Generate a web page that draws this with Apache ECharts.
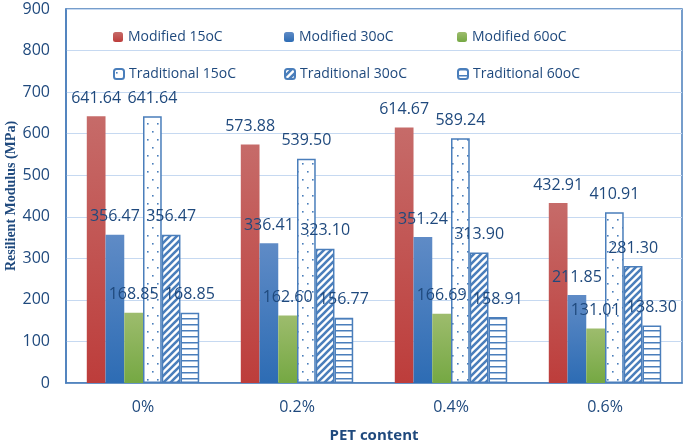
<!DOCTYPE html>
<html>
<head>
<meta charset="utf-8">
<script src="https://cdn.jsdelivr.net/npm/echarts@6/dist/echarts.min.js"></script>
<style>
  html, body { margin: 0; padding: 0; background: #fff; }
  #chart { width: 685px; height: 447px; }
</style>
</head>
<body>
<div id="chart"></div>
<script>
  var categories = ['0%', '0.2%', '0.4%', '0.6%'];
  var modified15 = [641.64, 573.88, 614.67, 432.91];
  var modified30 = [356.47, 336.41, 351.24, 211.85];
  var modified60 = [168.85, 162.60, 166.69, 131.01];
  var traditional15 = [641.64, 539.50, 589.24, 410.91];
  var traditional30 = [356.47, 323.10, 313.90, 281.30];
  var traditional60 = [168.85, 156.77, 158.91, 138.30];
  var seriesNames = ['Modified 15oC', 'Modified 30oC', 'Modified 60oC',
                     'Traditional 15oC', 'Traditional 30oC', 'Traditional 60oC'];

  var blue = '#4a7ebb';
  var textBlue = '#1f497d';
  var font = '"Open Sans", sans-serif';

  // small canvas tiles for the hatched bars
  function tile(w, h, draw) {
    var c = document.createElement('canvas');
    c.width = w;
    c.height = h;
    var ctx = c.getContext('2d');
    ctx.fillStyle = '#fff';
    ctx.fillRect(0, 0, w, h);
    draw(ctx);
    return { image: c, repeat: 'repeat' };
  }
  var dots = tile(10, 16, function (ctx) {
    ctx.fillStyle = blue;
    ctx.fillRect(2, 3, 1.6, 1.6);
    ctx.fillRect(7, 11, 1.6, 1.6);
  });
  var diag = tile(7, 7, function (ctx) {
    ctx.strokeStyle = blue;
    ctx.lineWidth = 2.6;
    ctx.beginPath();
    ctx.moveTo(-1, 8); ctx.lineTo(8, -1);
    ctx.moveTo(-4, 4); ctx.lineTo(4, -4);
    ctx.moveTo(3, 11); ctx.lineTo(11, 3);
    ctx.stroke();
  });
  var hlines = tile(6, 6, function (ctx) {
    ctx.fillStyle = blue;
    ctx.fillRect(0, 0, 6, 1.5);
  });

  function grad(top, bottom) {
    return new echarts.graphic.LinearGradient(0, 0, 0, 1, [
      { offset: 0, color: top },
      { offset: 1, color: bottom }
    ]);
  }

  var label = {
    show: true,
    position: 'top',
    distance: 10,
    color: textBlue,
    fontSize: 16,
    fontFamily: font,
    formatter: function (p) { return p.value.toFixed(2); }
  };

  function bar(name, data, style) {
    return {
      name: name,
      type: 'bar',
      data: data,
      barGap: '0%',
      barCategoryGap: '27%',
      itemStyle: style,
      label: label
    };
  }

  // one legend per item so the columns line up like the original
  var legendLeft = [108, 279, 452];
  var legendTop = [25, 62];
  var legends = seriesNames.map(function (name, i) {
    return {
      data: [name],
      left: legendLeft[i % 3],
      top: legendTop[Math.floor(i / 3)],
      itemWidth: 10,
      itemHeight: 10,
      itemTextGap: 5,
      textStyle: { color: textBlue, fontSize: 14, fontFamily: font }
    };
  });

  var chart = echarts.init(document.getElementById('chart'));
  chart.setOption({
    backgroundColor: '#fff',
    animation: false,
    legend: legends,
    grid: {
      left: 66, right: 3, top: 9, bottom: 64,
      outerBoundsMode: 'none',
      show: true, borderColor: blue, borderWidth: 1.5
    },
    xAxis: {
      type: 'category',
      data: categories,
      name: 'PET content',
      nameLocation: 'middle',
      nameGap: 45,
      nameTextStyle: { color: textBlue, fontSize: 15, fontWeight: 'bold', fontFamily: font },
      axisLine: { lineStyle: { color: blue, width: 1.5 } },
      axisTick: { show: false },
      axisLabel: { color: textBlue, fontSize: 16, fontFamily: font, margin: 16 }
    },
    yAxis: {
      type: 'value',
      min: 0, max: 900, interval: 100,
      name: 'Resilient Modulus (MPa)',
      nameLocation: 'middle',
      nameGap: 48,
      nameMoveOverlap: false,
      nameTextStyle: { color: textBlue, fontSize: 14, fontWeight: 'bold', fontFamily: '"Liberation Serif", serif' },
      axisLine: { show: true, lineStyle: { color: blue, width: 1.5 } },
      axisTick: { show: false },
      axisLabel: { color: textBlue, fontSize: 16, fontFamily: font, margin: 16 },
      splitLine: { lineStyle: { color: '#c6d9f1', width: 1.2 } }
    },
    series: [
      bar(seriesNames[0], modified15, { color: grad('#c66b69', '#bd3d3b') }),
      bar(seriesNames[1], modified30, { color: grad('#5f8bc6', '#2d6cb4') }),
      bar(seriesNames[2], modified60, { color: grad('#9dbc6d', '#75a843') }),
      bar(seriesNames[3], traditional15, { color: dots, borderColor: blue, borderWidth: 1.5 }),
      bar(seriesNames[4], traditional30, { color: diag, borderColor: blue, borderWidth: 1.5 }),
      bar(seriesNames[5], traditional60, { color: hlines, borderColor: blue, borderWidth: 1.5 })
    ]
  });
</script>
</body>
</html>
